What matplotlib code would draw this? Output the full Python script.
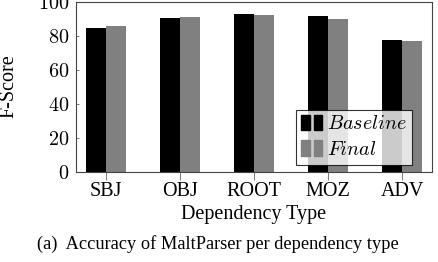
import matplotlib
matplotlib.use("Agg")
import matplotlib.pyplot as plt
import numpy as np
from matplotlib.patches import Rectangle
from matplotlib.legend_handler import HandlerTuple

categories = ["SBJ", "OBJ", "ROOT", "MOZ", "ADV"]
baseline = [84.7, 90.6, 92.9, 91.8, 77.6]
final = [85.6, 91.2, 92.4, 90.0, 76.8]
yticks = [0, 20, 40, 60, 80, 100]

plt.rcParams['font.family'] = ['Liberation Serif', 'DejaVu Serif']
plt.rcParams['mathtext.fontset'] = 'cm'

W, H = 438, 262
fig = plt.figure(figsize=(W/100, H/100), dpi=100)
ax = fig.add_axes([76/W, 1-172/H, (432-76)/W, 170/H])

x = np.arange(len(categories))
w = 0.27
ax.bar(x - w/2, baseline, w, color='black')
ax.bar(x + w/2, final, w, color='#808080')

ax.set_xlim(-0.405, len(categories) - 1 + 0.405)
ax.set_ylim(0, 100)
ax.set_xticks(x)
ax.set_xticklabels(categories, fontsize=14.5)
ax.set_yticks(yticks)
ax.set_yticklabels([r'$%d$' % t for t in yticks], fontsize=14.5)
ax.tick_params(axis='x', direction='out', length=5.5, width=0.6, color='#666666', pad=2)
ax.tick_params(axis='y', direction='in', length=2.5, width=0.6, color='#666666', pad=5)
for s in ax.spines.values():
    s.set_linewidth(0.8)
    s.set_color('#444444')

fig.text(254/W, 1-218.5/H, "Dependency Type", ha='center', va='baseline', fontsize=14.5)
fig.text(8.5/W, 1-86.5/H, "F-Score", ha='center', va='center', rotation=90, fontsize=14.5)

hb = (Rectangle((0, 0), 1, 1, color='black'), Rectangle((0, 0), 1, 1, color='black'))
hf = (Rectangle((0, 0), 1, 1, color='#808080'), Rectangle((0, 0), 1, 1, color='#808080'))
leg = ax.legend([hb, hf], [r'$Baseline$', r'$Final$'],
                handler_map={tuple: HandlerTuple(ndivide=2, pad=0.2)},
                loc='lower right', bbox_to_anchor=(0.944, 0.041),
                fontsize=14.5, frameon=True, fancybox=False,
                handlelength=1.0, handleheight=0.8, handletextpad=0.25,
                borderpad=0.25, labelspacing=0.3, borderaxespad=0)
leg.get_frame().set_edgecolor('black')
leg.get_frame().set_linewidth(0.8)
for t in leg.get_texts():
    t.set_ha('center')

fig.text(218/W, 1-249/H, "(a)  Accuracy of MaltParser per dependency type",
         ha='center', va='baseline', fontsize=13.2)

fig.savefig("out.png", dpi=100)
